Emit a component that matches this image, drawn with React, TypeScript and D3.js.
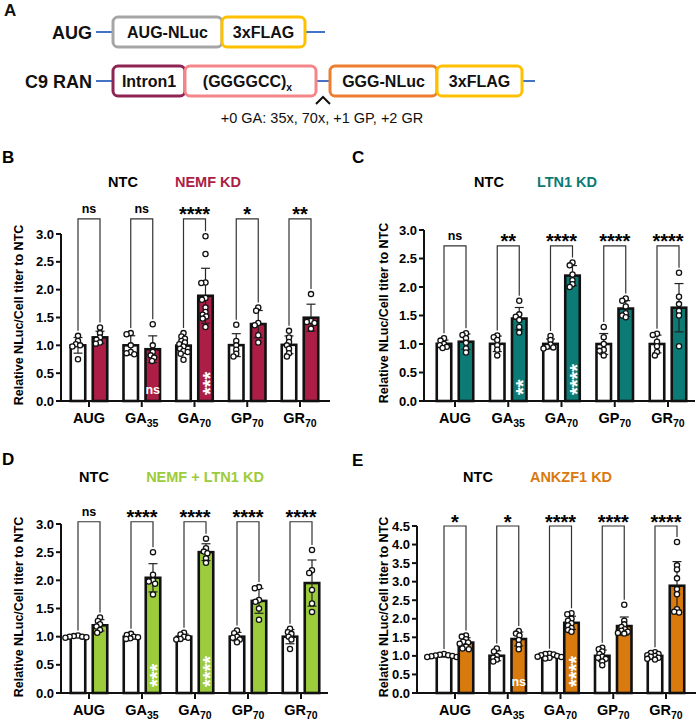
import React from 'react';
import * as d3 from 'd3';

const FONT = "'Liberation Sans', Arial, Helvetica, sans-serif";

// ---------- data ----------
const categories = ['AUG', 'GA35', 'GA70', 'GP70', 'GR70'];
const catBase = ['AUG', 'GA', 'GA', 'GP', 'GR'];
const catSub = ['', '35', '70', '70', '70'];

// Panel B : NTC vs NEMF KD
const bNTC = [
  [1.17, 1.08, 1.02, 1.0, 0.98, 0.75],
  [1.22, 1.2, 1.0, 0.88, 0.86, 0.84],
  [1.22, 1.16, 1.12, 1.08, 1.05, 1.02, 0.98, 0.94, 0.9, 0.88, 0.85, 0.74],
  [1.37, 1.08, 1.0, 0.92, 0.85, 0.8],
  [1.26, 1.14, 1.06, 1.0, 0.94, 0.86, 0.8],
];
const bKD = [
  [1.32, 1.22, 1.14, 1.1, 1.05, 1.03],
  [1.38, 1.0, 0.88, 0.82, 0.78, 0.72],
  [2.96, 2.64, 2.13, 2.12, 1.85, 1.82, 1.68, 1.6, 1.55, 1.52, 1.48, 1.33],
  [1.68, 1.62, 1.4, 1.36, 1.18, 1.05],
  [1.92, 1.44, 1.42, 1.4, 1.3],
];
const bSig = ['ns', 'ns', '****', '*', '**'];
const bInBar = ['', 'ns', '***', '', ''];

// Panel C : NTC vs LTN1 KD
const cNTC = [
  [1.1, 1.06, 1.0, 0.98, 0.95, 0.93],
  [1.15, 1.12, 1.07, 0.98, 0.9, 0.8],
  [1.14, 1.07, 0.99, 0.95, 0.94, 0.92],
  [1.3, 1.12, 1.0, 0.9, 0.88, 0.8],
  [1.18, 1.16, 1.04, 0.96, 0.86, 0.8],
];
const cKD = [
  [1.19, 1.16, 1.1, 1.02, 0.92, 0.85],
  [1.76, 1.52, 1.48, 1.42, 1.3, 1.2],
  [2.43, 2.38, 2.22, 2.12, 2.05, 2.0],
  [1.8, 1.76, 1.66, 1.54, 1.5, 1.47],
  [2.25, 1.83, 1.7, 1.58, 1.5, 0.96],
];
const cSig = ['ns', '**', '****', '****', '****'];
const cInBar = ['', '**', '****', '', ''];

// Panel D : NTC vs NEMF + LTN1 KD
const dNTC = [
  [1.02, 1.01, 1.0, 1.0, 0.99, 0.98],
  [1.05, 1.03, 1.0, 0.99, 0.97, 0.96],
  [1.07, 1.04, 1.0, 0.98, 0.96, 0.95],
  [1.11, 1.06, 1.0, 0.98, 0.95, 0.9],
  [1.14, 1.08, 1.05, 1.0, 0.95, 0.78],
];
const dKD = [
  [1.34, 1.28, 1.22, 1.18, 1.12, 1.07],
  [2.5, 2.1, 2.0, 1.98, 1.94, 1.75],
  [2.74, 2.57, 2.51, 2.48, 2.39, 2.31],
  [1.88, 1.86, 1.65, 1.62, 1.5, 1.3],
  [2.54, 2.18, 2.13, 1.83, 1.59, 1.44],
];
const dSig = ['ns', '****', '****', '****', '****'];
const dInBar = ['', '***', '****', '', ''];

// Panel E : NTC vs ANKZF1 KD
const eNTC = [
  [1.05, 1.03, 1.02, 1.01, 1.0, 0.99, 0.97, 0.96, 0.97],
  [1.2, 1.12, 1.0, 0.95, 0.9, 0.85],
  [1.06, 1.04, 1.02, 1.0, 0.98, 0.97, 0.95, 0.93, 1.05],
  [1.22, 1.18, 1.12, 1.05, 0.98, 0.95, 0.92, 0.85, 0.75],
  [1.1, 1.08, 1.05, 1.02, 1.0, 0.98, 0.95, 0.92, 0.9],
];
const eKD = [
  [1.55, 1.52, 1.45, 1.38, 1.36, 1.33, 1.25, 1.2, 1.18],
  [1.67, 1.6, 1.55, 1.43, 1.3, 1.18],
  [2.15, 2.12, 2.0, 1.95, 1.88, 1.82, 1.75, 1.7, 1.65],
  [2.38, 1.95, 1.85, 1.78, 1.72, 1.68, 1.65, 1.62, 1.6],
  [4.07, 3.44, 3.33, 3.09, 2.8, 2.66, 2.26, 2.19, 2.17],
];
const eSig = ['*', '*', '****', '****', '****'];
const eInBar = ['', 'ns', '****', '', ''];

// ---------- layout ----------
const panels = [
  { letter: 'B', lx: 2, ly: 163, kd: 'NEMF KD', color: '#AC1E46', ntc: bNTC, kdv: bKD, sig: bSig, inbar: bInBar,
    yMax: 3.0, bracket: 3.27, axisX: 61, xEnd: 330, firstX: 89, lastX: 300, y0: 401, yTop: 234,
    ntcX: 123, kdX: 208, titleY: 187, ylabX: 19, ylabY: 315 },
  { letter: 'C', lx: 352, ly: 163, kd: 'LTN1 KD', color: '#0C7B76', ntc: cNTC, kdv: cKD, sig: cSig, inbar: cInBar,
    yMax: 3.0, bracket: 2.72, axisX: 424, xEnd: 695, firstX: 455, lastX: 668, y0: 401, yTop: 230,
    ntcX: 489, kdX: 567, titleY: 187, ylabX: 384, ylabY: 313 },
  { letter: 'D', lx: 2, ly: 465, kd: 'NEMF + LTN1 KD', color: '#9CCB3B', ntc: dNTC, kdv: dKD, sig: dSig, inbar: dInBar,
    yMax: 3.0, bracket: 3.04, axisX: 61, xEnd: 328, firstX: 89, lastX: 301, y0: 693, yTop: 524,
    ntcX: 94, kdX: 205, titleY: 482, ylabX: 19, ylabY: 607 },
  { letter: 'E', lx: 352, ly: 466, kd: 'ANKZF1 KD', color: '#D97A0E', ntc: eNTC, kdv: eKD, sig: eSig, inbar: eInBar,
    yMax: 4.5, bracket: 4.5, axisX: 417, xEnd: 696, firstX: 455, lastX: 666, y0: 693, yTop: 526,
    ntcX: 478, kdX: 571, titleY: 482, ylabX: 384, ylabY: 607 },
];

const R = 2.6;

function swarm(vals: number[], yScale: (v: number) => number) {
  const placed: { v: number; py: number; dx: number }[] = [];
  const sorted = vals.map((v) => ({ v, py: yScale(v) })).sort((a, b) => a.py - b.py);
  const minD = 3.7;
  for (const p of sorted) {
    let dx = 0;
    for (let k = 0; k < 80; k++) {
      const m = Math.ceil(k / 2) * 0.7;
      const cand = k === 0 ? 0 : k % 2 === 1 ? -m : m;
      const ok = placed.every((q) => Math.hypot(q.dx - cand, q.py - p.py) >= minD);
      if (ok) { dx = cand; break; }
    }
    placed.push({ ...p, dx });
  }
  return placed;
}

function Group({ vals, cx, y, fill, y0 }: any) {
  const mean = d3.mean(vals) as number;
  const sd = d3.deviation(vals) as number;
  const bw = 14.5;
  const pts = swarm(vals, y);
  return (
    <g>
      <rect x={cx - bw / 2} y={y(mean)} width={bw} height={y0 - y(mean)} fill={fill} stroke="#111" strokeWidth={2.6} />
      <line x1={cx} x2={cx} y1={y(mean - sd)} y2={y(mean + sd)} stroke="#222" strokeWidth={1.2} />
      <line x1={cx - 4.5} x2={cx + 4.5} y1={y(mean + sd)} y2={y(mean + sd)} stroke="#222" strokeWidth={1.2} />
      <line x1={cx - 4.5} x2={cx + 4.5} y1={y(mean - sd)} y2={y(mean - sd)} stroke="#222" strokeWidth={1.2} />
      {pts.map((p, i) => (
        <circle key={i} cx={cx + p.dx} cy={p.py} r={R} fill="#fff" stroke="#111" strokeWidth={1.3} />
      ))}
    </g>
  );
}

function Panel({ cfg }: any) {
  const y = d3.scaleLinear().domain([0, cfg.yMax]).range([cfg.y0, cfg.yTop]);
  const x = d3.scalePoint().domain(categories).range([cfg.firstX, cfg.lastX]);
  const sub = d3.scalePoint().domain(['NTC', 'KD']).range([-11, 11]);
  const ticks = d3.range(0, cfg.yMax + 0.001, 0.5);
  const by = y(cfg.bracket);
  return (
    <g fontFamily={FONT}>
      <text x={cfg.lx} y={cfg.ly} fontSize={17} fontWeight="bold">{cfg.letter}</text>
      <text x={cfg.ntcX} y={cfg.titleY} fontSize={14.5} fontWeight="bold" textAnchor="middle">NTC</text>
      <text x={cfg.kdX} y={cfg.titleY} fontSize={14.5} fontWeight="bold" textAnchor="middle" fill={cfg.color}>{cfg.kd}</text>
      <text transform={`translate(${cfg.ylabX + 4},${cfg.ylabY}) rotate(-90)`} fontSize={12.5} fontWeight="bold" textAnchor="middle">
        Relative NLuc/Cell titer to NTC
      </text>
      {/* y axis */}
      <line x1={cfg.axisX} x2={cfg.axisX} y1={cfg.y0} y2={y(cfg.yMax)} stroke="#111" strokeWidth={2} />
      {ticks.map((t) => (
        <g key={t}>
          <line x1={cfg.axisX - 5} x2={cfg.axisX} y1={y(t)} y2={y(t)} stroke="#111" strokeWidth={2} />
          <text x={cfg.axisX - 7} y={y(t) + 4.5} fontSize={13} fontWeight="bold" textAnchor="end">{d3.format('.1f')(t)}</text>
        </g>
      ))}
      {/* x axis */}
      <line x1={cfg.axisX - 1} x2={cfg.xEnd} y1={cfg.y0} y2={cfg.y0} stroke="#111" strokeWidth={2} />
      {categories.map((c, i) => {
        const gx = x(c) as number;
        const nx = gx + (sub('NTC') as number);
        const kx = gx + (sub('KD') as number);
        const ntcTop = Math.max(d3.max(cfg.ntc[i]) as number, (d3.mean(cfg.ntc[i]) as number) + (d3.deviation(cfg.ntc[i]) as number));
        const kdTop = Math.max(d3.max(cfg.kdv[i]) as number, (d3.mean(cfg.kdv[i]) as number) + (d3.deviation(cfg.kdv[i]) as number));
        const sig = cfg.sig[i];
        const isNs = sig === 'ns';
        const ib = cfg.inbar[i];
        return (
          <g key={c}>
            <line x1={gx} x2={gx} y1={cfg.y0} y2={cfg.y0 + 6} stroke="#111" strokeWidth={2} />
            <text x={gx} y={cfg.y0 + 22} fontSize={14.5} fontWeight="bold" textAnchor="middle">
              <tspan>{catBase[i]}</tspan>
              {catSub[i] && <tspan fontSize={10.5} dy={4}>{catSub[i]}</tspan>}
            </text>
            <Group vals={cfg.ntc[i]} cx={nx} y={y} fill="#fff" y0={cfg.y0} />
            <Group vals={cfg.kdv[i]} cx={kx} y={y} fill={cfg.color} y0={cfg.y0} />
            <path d={`M${nx},${y(ntcTop) - 5}V${by}H${kx}V${y(kdTop) - 5}`} fill="none" stroke="#333" strokeWidth={1.2} />
            {isNs ? (
              <text x={gx} y={by - 6} fontSize={12.5} fontWeight="bold" textAnchor="middle">ns</text>
            ) : (
              <text x={gx} y={by + 2.5} fontSize={20} fontWeight="bold" textAnchor="middle">{sig}</text>
            )}
            {ib === 'ns' && (
              <text x={kx} y={cfg.y0 - 7} fontSize={12.5} fontWeight="bold" textAnchor="middle" fill="#fff">ns</text>
            )}
            {ib && ib !== 'ns' && (
              <text transform={`translate(${kx + 11},${cfg.y0 - 6}) rotate(-90)`} fontSize={20} fontWeight="bold" fill="#fff">{ib}</text>
            )}
          </g>
        );
      })}
    </g>
  );
}

function Construct() {
  const blue = '#4472C4';
  const boxes1 = [
    { x: 113, w: 109, c: '#A6A6A6', t: 'AUG-NLuc' },
    { x: 222, w: 83, c: '#FFC000', t: '3xFLAG' },
  ];
  const boxes2 = [
    { x: 113, w: 72, c: '#8E2454', t: 'Intron1' },
    { x: 185, w: 131, c: '#F4868A', t: '(GGGGCC)' },
    { x: 330, w: 107, c: '#ED7D31', t: 'GGG-NLuc' },
    { x: 437, w: 85, c: '#FFC000', t: '3xFLAG' },
  ];
  const row = (boxes: any[], yc: number) =>
    boxes.map((b, i) => (
      <g key={i}>
        <rect x={b.x} y={yc - 15} width={b.w} height={30} rx={5} fill="#fff" stroke={b.c} strokeWidth={3} />
        <text x={b.x + b.w / 2 - (b.t === '(GGGGCC)' ? 3 : 0)} y={yc + 6} fontSize={16} fontWeight="bold" textAnchor="middle">
          {b.t}
          {b.t === '(GGGGCC)' && <tspan fontSize={10.5} dy={4}>x</tspan>}
        </text>
      </g>
    ));
  return (
    <g fontFamily={FONT} fill="#111">
      <text x={4} y={16} fontSize={17} fontWeight="bold">A</text>
      <line x1={96} x2={113} y1={32} y2={32} stroke={blue} strokeWidth={2} />
      <line x1={305} x2={325} y1={32} y2={32} stroke={blue} strokeWidth={2} />
      <text x={92} y={39} fontSize={18} fontWeight="bold" textAnchor="end">AUG</text>
      {row(boxes1, 32)}
      <line x1={96} x2={113} y1={81} y2={81} stroke={blue} strokeWidth={2} />
      <line x1={316} x2={330} y1={81} y2={81} stroke={blue} strokeWidth={2} />
      <line x1={522} x2={535} y1={81} y2={81} stroke={blue} strokeWidth={2} />
      <text x={92} y={88} fontSize={18} fontWeight="bold" textAnchor="end">C9 RAN</text>
      {row(boxes2, 81)}
      <path d="M316,104L323,97L330,104" fill="none" stroke="#111" strokeWidth={2} />
      <text x={322} y={123} fontSize={14.5} textAnchor="middle">+0 GA: 35x, 70x, +1 GP, +2 GR</text>
    </g>
  );
}

export default function App() {
  return (
    <svg width={700} height={720} style={{ position: 'absolute', left: 0, top: 0, background: '#fff' }}>
      <rect width={700} height={720} fill="#fff" />
      <Construct />
      {panels.map((p) => (
        <Panel key={p.letter} cfg={p} />
      ))}
    </svg>
  );
}
